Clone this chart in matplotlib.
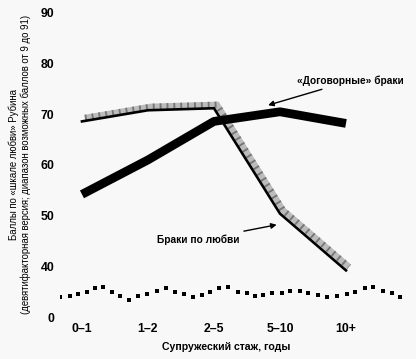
import matplotlib
matplotlib.use("Agg")
import matplotlib.pyplot as plt
import matplotlib.transforms as mtransforms

# ---- data ----
categories = ["0\u20131", "1\u20132", "2\u20135", "5\u201310", "10+"]
arranged = [54.2, 61.0, 68.6, 70.5, 68.2]
love = [68.6, 70.8, 71.2, 50.4, 39.2]
ytick_vals = [30, 40, 50, 60, 70, 80, 90]
ytick_labels = ["0", "40", "50", "60", "70", "80", "90"]
# axis-break wavy dotted decoration (dot positions)
wave_x = [-0.333, -0.182, -0.061, 0.076, 0.197, 0.318, 0.455, 0.576, 0.712, 0.848,
          0.985, 1.136, 1.273, 1.409, 1.545, 1.682, 1.818, 1.939, 2.076, 2.212,
          2.364, 2.5, 2.621, 2.742, 2.879, 3.030, 3.152, 3.303, 3.424, 3.576,
          3.712, 3.864, 4.015, 4.136, 4.288, 4.409, 4.561, 4.697, 4.818]
wave_y = [34.0, 34.2, 34.5, 35.0, 35.7, 35.9, 35.0, 34.1, 33.4, 34.1,
          34.5, 35.1, 35.7, 35.0, 34.5, 34.0, 34.3, 35.0, 35.7, 36.0,
          35.0, 34.7, 34.1, 34.3, 34.7, 34.8, 35.1, 35.1, 34.7, 34.3,
          33.9, 34.1, 34.5, 35.0, 35.7, 35.9, 35.1, 34.7, 34.0]

FAM = ["Liberation Sans", "DejaVu Sans"]

W, H = 416, 359
fig = plt.figure(figsize=(W / 100, H / 100), dpi=100)
bg = "#f8f8f8"
fig.patch.set_facecolor(bg)
ax = fig.add_axes([60 / W, 1 - 317 / H, 350 / W, (317 - 7.9) / H])
ax.set_facecolor(bg)

x = list(range(len(categories)))
ax.set_xlim(-0.333, 4.97)
ax.set_ylim(30, 91)

# love line shadow (offset up-right)
shadow_tr = ax.transData + mtransforms.ScaledTranslation(3 / 100, 3.5 / 100, fig.dpi_scale_trans)
ax.plot(x, love, color="#bcbcbc", lw=4.5, transform=shadow_tr, solid_joinstyle="miter",
        solid_capstyle="butt", zorder=2)
ax.plot(x, love, color="#767676", lw=4.5, transform=shadow_tr, linestyle=(0, (0.3, 0.8)),
        zorder=2.1)
ax.plot(x, love, color="black", lw=1.9, solid_joinstyle="miter", zorder=3)
ax.plot(x, arranged, color="black", lw=6.3, solid_capstyle="butt", solid_joinstyle="round", zorder=4)

ax.plot(wave_x, wave_y, linestyle="none", marker="s", ms=3.5, color="black",
        markeredgewidth=0, zorder=3)

for s in ax.spines.values():
    s.set_visible(False)
ax.set_xticks(x)
ax.set_xticklabels(categories)
ax.set_yticks(ytick_vals)
ax.set_yticklabels(ytick_labels)
ax.tick_params(length=0, pad=4)
for lab in ax.get_xticklabels() + ax.get_yticklabels():
    lab.set_fontfamily(FAM)
    lab.set_fontsize(8.8)
    lab.set_fontweight("bold")

ax.set_xlabel("Супружеский стаж, годы", family=FAM, fontsize=7.6, fontweight="bold")
ax.xaxis.set_label_coords(0.474, -0.082)
ax.set_ylabel("Баллы по «шкале любви» Рубина\n(девятифакторная версия; диапазон возможных баллов от 9 до 91)",
              family=FAM, fontsize=6.9, linespacing=1.15)
ax.yaxis.set_label_coords(-0.083, 0.494)

ax.annotate("«Договорные» браки", xy=(2.82, 71.8), xytext=(3.26, 76.6),
            family=FAM, fontsize=7.3, fontweight="bold",
            ha="left", va="center",
            arrowprops=dict(arrowstyle="-|>", color="black", lw=1.0, mutation_scale=8,
                            shrinkA=1, shrinkB=0))
ax.annotate("Браки по любви", xy=(2.95, 48.2), xytext=(2.39, 45.2),
            family=FAM, fontsize=7.3, fontweight="bold",
            ha="right", va="center",
            arrowprops=dict(arrowstyle="-|>", color="black", lw=1.0, mutation_scale=8,
                            shrinkA=3, shrinkB=0))

fig.savefig("out.png", dpi=100, facecolor=bg)
